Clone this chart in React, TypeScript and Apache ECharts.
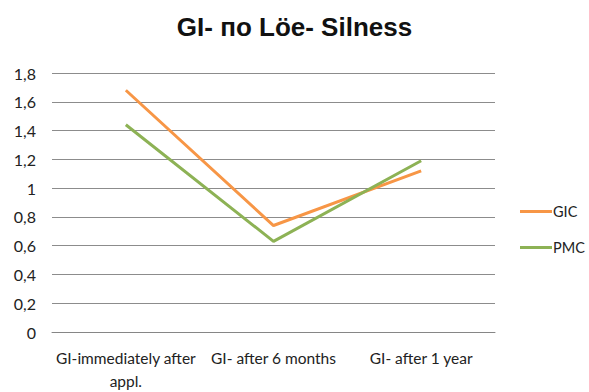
import React, { useEffect, useRef } from "react";
import * as echarts from "echarts";

const categories = ["GI-immediately after\nappl.", "GI- after 6 months", "GI- after 1 year"];
const gicValues = [1.68, 0.74, 1.12];
const pmcValues = [1.44, 0.63, 1.19];
const seriesNames = ["GIC", "PMC"];
const titleText = "GI- по Löe- Silness";

export default function App() {
  const ref = useRef<HTMLDivElement>(null);
  useEffect(() => {
    if (!ref.current) return;
    const chart = echarts.init(ref.current, undefined, { renderer: "svg" });
    const font = "Lato, 'Open Sans', sans-serif";
    chart.setOption({
      animation: false,
      backgroundColor: "#ffffff",
      title: {
        text: titleText,
        left: "center",
        top: 9,
        textStyle: { fontFamily: "'Liberation Sans', Arial, sans-serif", fontWeight: "bold", fontSize: 26, color: "#111" },
      },
      grid: { left: 52, right: 94, top: 73, bottom: 56 },
      legend: {
        orient: "vertical",
        left: 520,
        top: 204,
        padding: 0,
        itemGap: 21,
        itemWidth: 32,
        itemHeight: 3,
        icon: "rect",
        textStyle: { fontFamily: font, fontSize: 14.5, color: "#222", padding: [0, 0, 0, -4] },
        data: seriesNames,
      },
      xAxis: {
        type: "category",
        data: categories,
        boundaryGap: true,
        axisLine: { lineStyle: { color: "#868686", width: 1 } },
        axisTick: { show: false },
        axisLabel: { fontFamily: font, fontSize: 15.5, color: "#222", margin: 14, lineHeight: 23, interval: 0 },
      },
      yAxis: {
        type: "value",
        min: 0,
        max: 1.8,
        interval: 0.2,
        axisLine: { show: false },
        axisTick: { show: false },
        splitLine: { lineStyle: { color: "#8c8c8c", width: 1 } },
        axisLabel: {
          fontFamily: font,
          fontSize: 16,
          color: "#222",
          margin: 16,
          formatter: (v: number) => (Math.round(v * 10) / 10).toString().replace(".", ","),
        },
      },
      series: [
        {
          name: seriesNames[0],
          type: "line",
          data: gicValues,
          showSymbol: false,
          symbol: "none",
          lineStyle: { color: "#F79646", width: 3 },
          itemStyle: { color: "#F79646" },
        },
        {
          name: seriesNames[1],
          type: "line",
          data: pmcValues,
          showSymbol: false,
          symbol: "none",
          lineStyle: { color: "#8DB255", width: 3 },
          itemStyle: { color: "#8DB255" },
        },
      ],
    });
    return () => chart.dispose();
  }, []);
  return <div ref={ref} style={{ width: 589, height: 392, position: "absolute", left: 0, top: 0 }} />;
}
